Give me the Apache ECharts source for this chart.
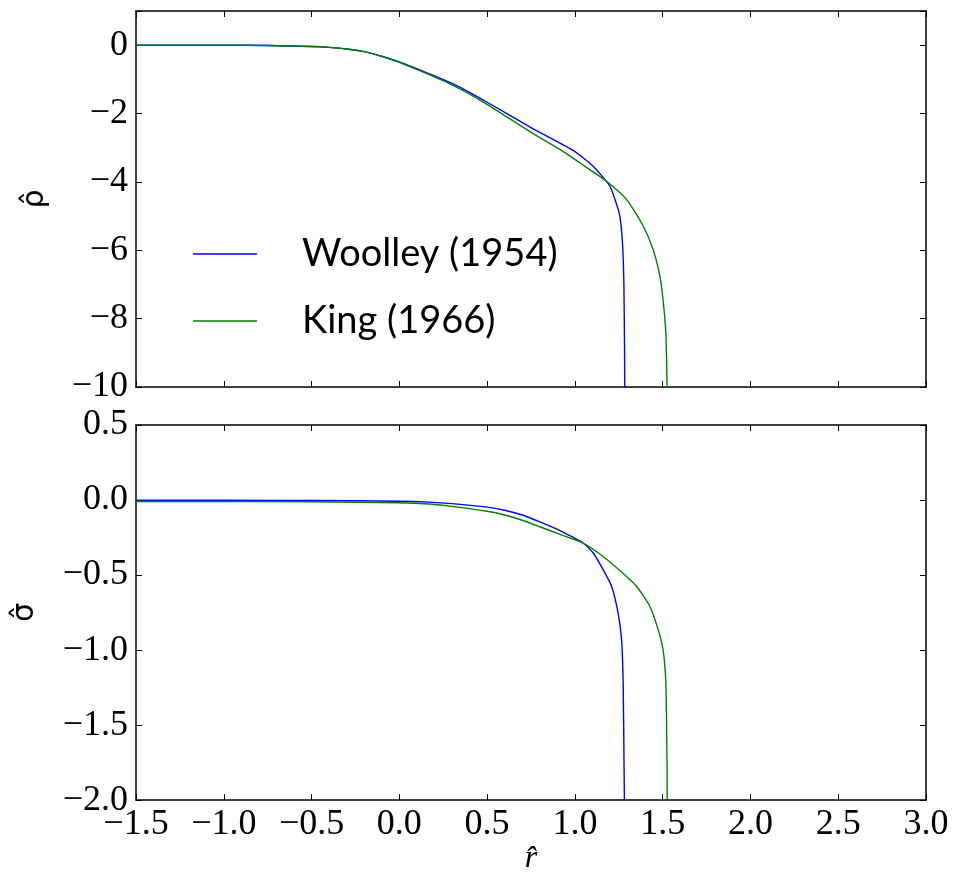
<!DOCTYPE html>
<html>
<head>
<meta charset="utf-8">
<script src="https://cdn.jsdelivr.net/npm/echarts@6/dist/echarts.min.js"></script>
<style>
  html, body { margin: 0; padding: 0; background: #fff; }
  #chart { width: 955px; height: 876px; }
</style>
</head>
<body>
<div id="chart"></div>
<script>
// Radial coordinate samples and profiles for the two models
const woolleyR = [-1.5, -1.0, -0.75, -0.5, -0.4, -0.3, -0.2, -0.1, 0.0, 0.1, 0.2, 0.3, 0.4, 0.5, 0.76, 0.99, 1.104, 1.199, 1.228, 1.256, 1.271, 1.279, 1.283, 1.284];
const woolleyRho = [0, 0, -0.01, -0.04, -0.065, -0.11, -0.19, -0.32, -0.49, -0.69, -0.9, -1.12, -1.38, -1.67, -2.44, -3.08, -3.54, -4.12, -4.51, -5.0, -5.78, -6.95, -9.0, -10.5];

const kingR = [-1.5, -1.0, -0.75, -0.5, -0.4, -0.3, -0.2, -0.1, 0.0, 0.1, 0.2, 0.3, 0.4, 0.5, 0.76, 0.915, 1.028, 1.18, 1.294, 1.389, 1.445, 1.484, 1.502, 1.518, 1.525, 1.526];
const kingRho = [0, 0, -0.01, -0.04, -0.065, -0.11, -0.19, -0.33, -0.5, -0.71, -0.93, -1.16, -1.43, -1.73, -2.58, -3.05, -3.44, -3.98, -4.51, -5.29, -5.97, -6.75, -7.44, -8.41, -9.87, -10.5];

const woolleySigR = [-1.5, -1.0, -0.5, 0.0, 0.17, 0.3, 0.5, 0.6, 0.7, 0.8, 0.9, 1.0, 1.04, 1.104, 1.161, 1.209, 1.246, 1.266, 1.275, 1.280, 1.283];
const woolleySig = [-0.002, -0.002, -0.003, -0.008, -0.014, -0.024, -0.047, -0.068, -0.1, -0.145, -0.195, -0.255, -0.28, -0.353, -0.464, -0.575, -0.752, -0.93, -1.22, -1.77, -2.1];

const kingSigR = [-1.5, -1.0, -0.5, 0.0, 0.17, 0.3, 0.5, 0.6, 0.7, 0.8, 0.9, 1.0, 1.04, 1.142, 1.256, 1.351, 1.427, 1.474, 1.502, 1.518, 1.525, 1.526];
const kingSig = [-0.01, -0.01, -0.012, -0.018, -0.027, -0.042, -0.075, -0.1, -0.135, -0.178, -0.222, -0.265, -0.283, -0.36, -0.47, -0.575, -0.708, -0.863, -0.996, -1.217, -1.77, -2.1];

const xTicks = { min: -1.5, max: 3.0, interval: 0.5 };
const rhoTicks = { min: -10, max: 1, interval: 2 };
const sigTicks = { min: -2.0, max: 0.5, interval: 0.5 };

const BLUE = '#0000ff';
const GREEN = '#008000';
const serif = '"Liberation Serif", "DejaVu Serif", serif';
const sans = '"Lato", "DejaVu Sans", sans-serif';

const pair = (xs, ys) => xs.map((x, i) => [x, ys[i]]);
const minus = s => s.replace('-', '\u2212');

const frameLine = { show: true, onZero: false, lineStyle: { color: '#000', width: 1.5 } };
const tickIn = { show: true, inside: true, length: 6, lineStyle: { color: '#000', width: 1 } };

function xAxis(grid, pos, labels) {
  return {
    type: 'value', gridIndex: grid, position: pos,
    min: xTicks.min, max: xTicks.max, interval: xTicks.interval,
    axisLine: frameLine, axisTick: tickIn, splitLine: { show: false },
    axisLabel: labels ? {
      show: true, margin: 6, color: '#000', fontFamily: serif, fontSize: 36,
      formatter: v => minus(v.toFixed(1))
    } : { show: false },
    name: labels ? 'r\u0302' : '', nameLocation: 'middle', nameGap: 42,
    nameTextStyle: { fontFamily: serif, fontStyle: 'italic', fontSize: 32, color: '#000' }
  };
}

function yAxis(grid, pos, t, labelFmt, name, gap) {
  return {
    type: 'value', gridIndex: grid, position: pos,
    min: t.min, max: t.max, interval: t.interval,
    axisLine: frameLine, axisTick: tickIn, splitLine: { show: false },
    axisLabel: labelFmt ? {
      show: true, margin: 8, color: '#000', fontFamily: serif, fontSize: 36,
      formatter: labelFmt
    } : { show: false },
    name: name || '', nameLocation: 'middle', nameGap: gap || 0, nameRotate: 90,
    nameTextStyle: { fontFamily: '"DejaVu Sans", sans-serif', fontSize: 30, color: '#000' }
  };
}

const lineSeries = (name, data, color, xi, yi) => ({
  name, type: 'line', data, xAxisIndex: xi, yAxisIndex: yi,
  symbol: 'none', smooth: 0.2, clip: true,
  lineStyle: { color, width: 1.4 }, itemStyle: { color },
  emphasis: { disabled: true }
});

const chart = echarts.init(document.getElementById('chart'), null, { renderer: 'canvas' });
chart.setOption({
  animation: false,
  backgroundColor: '#fff',
  grid: [
    { left: 136, top: 11, width: 790, height: 376 },
    { left: 136, top: 425, width: 790, height: 376 }
  ],
  xAxis: [
    xAxis(0, 'bottom', false),
    xAxis(0, 'top', false),
    xAxis(1, 'bottom', true),
    xAxis(1, 'top', false)
  ],
  yAxis: [
    yAxis(0, 'left', rhoTicks, v => (v > 0 ? '' : minus(String(v))), '\u03C1\u0302', 86),
    yAxis(0, 'right', rhoTicks, null),
    yAxis(1, 'left', sigTicks, v => minus(v.toFixed(1)), '\u03C3\u0302', 96),
    yAxis(1, 'right', sigTicks, null)
  ],
  legend: {
    orient: 'vertical', left: 188, top: 227,
    data: ['Woolley (1954)', 'King (1966)'],
    icon: 'rect', itemWidth: 64, itemHeight: 1.5, itemGap: 23,
    textStyle: { fontFamily: sans, fontSize: 38, color: '#000', lineHeight: 44, padding: [0, 0, 0, 40] },
    selectedMode: false
  },
  series: [
    lineSeries('Woolley (1954)', pair(woolleyR, woolleyRho), BLUE, 0, 0),
    lineSeries('King (1966)', pair(kingR, kingRho), GREEN, 0, 0),
    lineSeries('Woolley (1954)', pair(woolleySigR, woolleySig), BLUE, 2, 2),
    lineSeries('King (1966)', pair(kingSigR, kingSig), GREEN, 2, 2)
  ]
});
</script>
</body>
</html>
